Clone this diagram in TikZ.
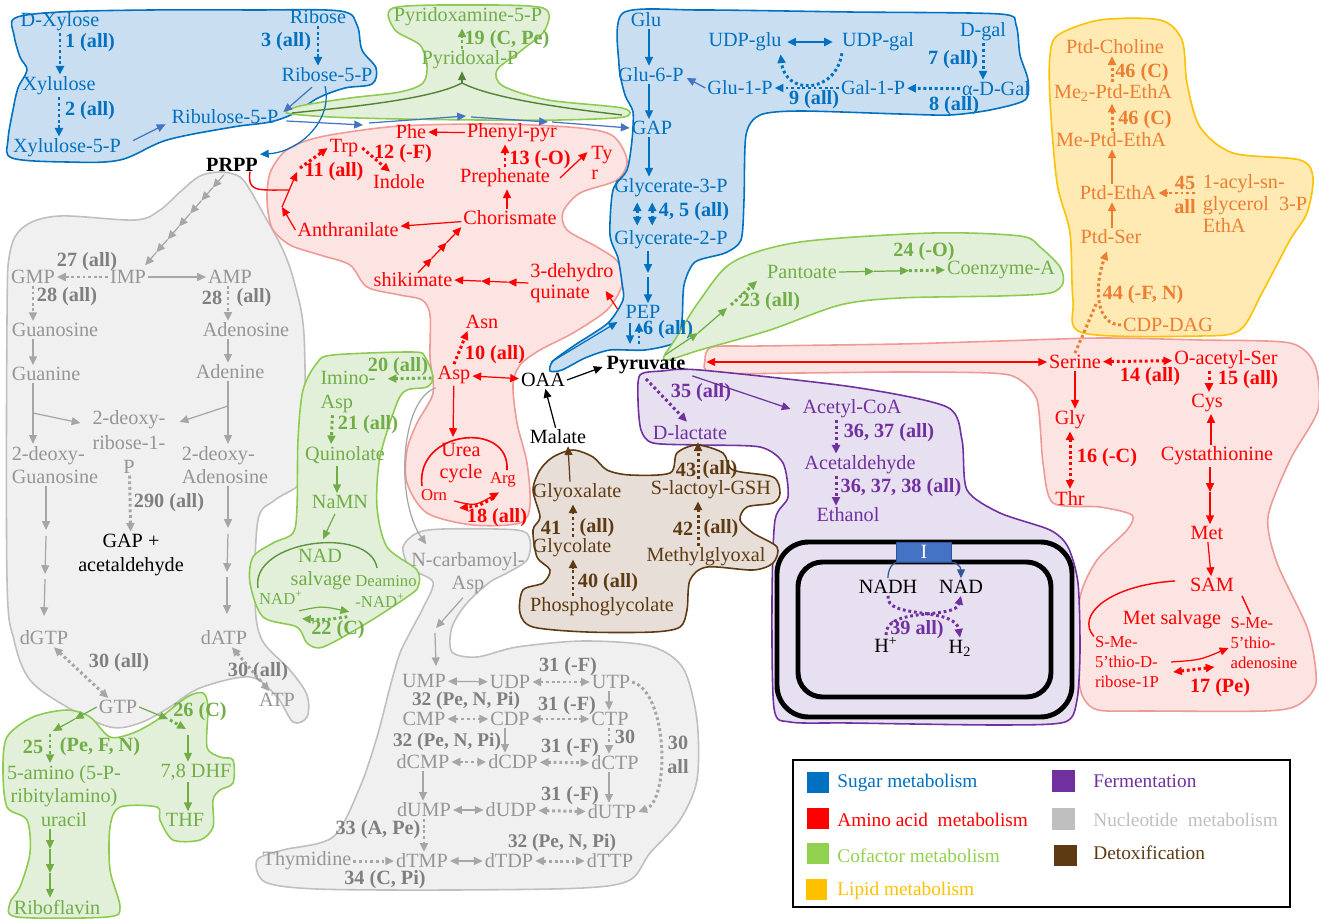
\documentclass[tikz,border=0pt]{standalone}
\usepackage{fontspec}
\setmainfont{Liberation Serif}
\usetikzlibrary{arrows.meta,calc}
\definecolor{sugblue}{HTML}{0070C0}
\definecolor{sugmid}{HTML}{4472C4}
\definecolor{sugfill}{HTML}{C9DFF1}
\definecolor{amired}{HTML}{FF0000}
\definecolor{amifill}{HTML}{FCE4E2}
\definecolor{amiedge}{HTML}{EE9A97}
\definecolor{cofgreen}{HTML}{70AD47}
\definecolor{cofdark}{HTML}{548235}
\definecolor{coffill}{HTML}{E2F0D9}
\definecolor{cofedge}{HTML}{8CCB50}
\definecolor{lipor}{HTML}{ED7D31}
\definecolor{lipfill}{HTML}{FFEAB4}
\definecolor{lipedge}{HTML}{FFC000}
\definecolor{ferpur}{HTML}{7030A0}
\definecolor{ferfill}{HTML}{E7E0F0}
\definecolor{nucgray}{HTML}{959595}
\definecolor{nucdark}{HTML}{7F7F7F}
\definecolor{nucarr}{HTML}{A6A6A6}
\definecolor{nucfill}{HTML}{F0F0F0}
\definecolor{nucedge}{HTML}{BFBFBF}
\definecolor{detbrown}{HTML}{5E3A12}
\definecolor{detfill}{HTML}{E8DED8}
\definecolor{legcof}{HTML}{92D050}
\definecolor{boxblue}{HTML}{4472C4}
\definecolor{boxedge}{HTML}{2F5597}
\newcommand{\mfs}{\fontsize{11.5}{13.5}\selectfont}
\newcommand{\sfs}{\fontsize{9.5}{11.3}\selectfont}
\newcommand{\lfs}{\fontsize{11}{13}\selectfont}

\begin{document}
\begin{tikzpicture}[x=0.02cm, y=-0.02cm,
  met/.style={font=\mfs, inner sep=1pt},
  rxn/.style={font=\mfs\bfseries, inner sep=1pt},
  smallmet/.style={font=\sfs, inner sep=1pt},
  arr/.style={-{Triangle[length=5pt,width=4.5pt]}, line width=0.7pt},
  dotarr/.style={arr, line width=1.7pt, dash pattern=on 1.6pt off 1.6pt},
  twoarr/.style={{Triangle[length=5pt,width=4.5pt]}-{Triangle[length=5pt,width=4.5pt]}, line width=0.7pt},
  twodot/.style={twoarr, line width=1.7pt, dash pattern=on 1.6pt off 1.6pt},
  blob/.style={line width=0.9pt}]

  \useasboundingbox (0,0) rectangle (1319,919);

  % ---- Regions ----
  % nucleotide (purines)
  \filldraw[nucfill, draw=nucedge, blob] plot[smooth cycle, tension=0.55] coordinates {
    (240,177) (222,172) (200,176) (180,192) (160,210) (135,220) (60,216) (25,226)
    (10,252) (7,320) (7,580) (14,640) (30,680) (67,707) (110,727) (140,723) (170,707)
    (200,688) (250,677) (277,697) (293,722) (307,717) (307,695) (290,670) (262,640)
    (255,600) (258,520) (275,500) (300,483) (305,450) (304,335) (295,285) (283,250)
    (263,213) (250,190)};
  % nucleotide (pyrimidines)
  \filldraw[nucfill, draw=nucedge, blob] plot[smooth cycle, tension=0.5] coordinates {
    (403,547) (417,533) (443,529) (517,530) (530,540) (527,560) (507,573) (490,582)
    (467,603) (452,627) (452,652) (477,657) (517,647) (583,641) (650,646) (683,668)
    (697,720) (697,780) (680,820) (650,853) (630,880) (583,888) (450,890) (317,889)
    (265,882) (257,860) (283,850) (333,837) (360,787) (377,737) (390,687) (400,653)
    (413,627) (423,608) (433,582) (410,568)};
  % sugar (pentoses)
  \filldraw[sugfill, draw=sugblue, blob] plot[smooth cycle, tension=0.55] coordinates {
    (15,18) (60,12) (150,10) (250,10) (340,11) (357,25) (362,50) (376,68) (372,84)
    (345,88) (318,98) (295,113) (270,122) (233,127) (167,140) (120,160) (67,162)
    (12,158) (8,140) (13,110) (18,88) (27,70) (20,57) (14,35)};
  % cofactor (pyridoxal)
  \filldraw[coffill, draw=cofedge, blob] plot[smooth cycle, tension=0.5] coordinates {
    (393,8) (468,5) (543,8) (545,30) (522,50) (497,70) (503,86) (548,100) (622,108)
    (624,117) (560,120) (480,120) (400,119) (330,117) (287,113) (300,106) (350,98)
    (400,92) (423,83) (427,65) (420,45) (395,30)};
  % amino acid (aromatic)
  \filldraw[amifill, draw=amiedge, blob] plot[smooth cycle, tension=0.5] coordinates {
    (267,200) (270,173) (283,153) (300,143) (330,135) (400,126) (500,124) (580,128)
    (613,136) (627,160) (617,180) (580,193) (563,212) (567,230) (597,247) (618,262)
    (622,285) (607,310) (573,333) (540,350) (520,365) (513,385) (517,423) (527,463)
    (530,505) (520,523) (473,525) (427,513) (407,483) (407,450) (417,423) (433,393)
    (430,357) (430,315) (422,300) (400,295) (367,287) (350,265) (320,255) (290,245)
    (272,228)};
  % sugar (glycolysis)
  \filldraw[sugfill, draw=sugblue, blob] plot[smooth cycle, tension=0.45] coordinates {
    (623,13) (700,10) (850,12) (1000,14) (1016,25) (1020,55) (1028,80) (1025,100)
    (990,110) (950,115) (900,114) (800,111) (760,115) (746,135) (744,200) (741,240)
    (725,253) (695,262) (684,285) (682,320) (676,342) (645,350) (610,350) (585,358)
    (562,370) (550,371) (553,361) (575,345) (608,323) (623,300) (622,283) (618,258)
    (610,235) (613,190) (627,170) (632,140) (633,112) (625,95) (619,65)};
  % amino acid (serine, methionine)
  \filldraw[amifill, draw=amiedge, blob] plot[smooth cycle, tension=0.45] coordinates {
    (705,360) (712,347) (760,346) (900,344) (1000,341) (1100,338) (1200,340)
    (1290,343) (1315,365) (1318,410) (1290,460) (1268,517) (1277,563) (1308,630)
    (1316,683) (1298,705) (1265,711) (1150,711) (1098,710) (1082,695) (1077,660)
    (1080,597) (1097,560) (1127,530) (1132,515) (1100,507) (1053,503) (1043,463)
    (1037,400) (1017,378) (990,373) (900,372) (800,373) (712,373)};
  % cofactor (pantothenate)
  \filldraw[coffill, draw=cofedge, blob] plot[smooth cycle, tension=0.5] coordinates {
    (664,360) (676,338) (700,300) (733,262) (800,242) (933,233) (1020,236)
    (1040,247) (1060,267) (1063,283) (1050,293) (1000,296) (900,298) (840,305)
    (770,330) (700,350)};
  % lipid
  \filldraw[lipfill, draw=lipedge, blob] plot[smooth cycle, tension=0.5] coordinates {
    (1058,35) (1100,20) (1160,20) (1182,40) (1187,83) (1200,127) (1233,153) (1300,160)
    (1313,178) (1307,213) (1290,240) (1262,293) (1240,330) (1200,336) (1083,333)
    (1073,300) (1070,233) (1057,183) (1050,100) (1050,55)};
  % fermentation
  \filldraw[ferfill, draw=ferpur, blob] plot[smooth cycle, tension=0.45] coordinates {
    (640,375) (662,371) (700,370) (853,387) (947,407) (962,440) (967,490) (1000,513)
    (1050,530) (1068,547) (1078,583) (1080,650) (1077,700) (1065,722) (1000,725)
    (850,723) (790,722) (774,708) (772,600) (775,520) (788,497) (783,463) (760,447)
    (700,445) (653,443) (641,430) (638,400)};
  % membrane
  \draw[line width=2.8pt, rounded corners=18pt] (777,542) rectangle (1072,717);
  \draw[line width=2.8pt, rounded corners=14pt] (798,562) rectangle (1051,697);
  % detoxification
  \filldraw[detfill, draw=detbrown, blob] plot[smooth cycle, tension=0.5] coordinates {
    (553,457) (573,450) (593,457) (607,470) (630,475) (670,473) (677,453) (697,445)
    (723,453) (733,470) (773,477) (780,493) (773,503) (747,507) (740,520) (753,533)
    (777,547) (773,563) (753,570) (707,567) (690,580) (687,610) (680,627) (653,632)
    (587,632) (533,627) (520,613) (523,590) (543,583) (550,570) (537,557) (533,530)
    (540,517) (533,490) (540,470)};
  % cofactor (NAD)
  \filldraw[coffill, draw=cofedge, blob] plot[smooth cycle, tension=0.5] coordinates {
    (317,363) (333,355) (413,352) (425,357) (433,377) (427,387) (407,390) (397,403)
    (380,457) (377,507) (387,547) (417,570) (418,587) (407,597) (367,623) (323,647)
    (307,643) (297,627) (263,617) (250,583) (253,557) (273,543) (293,533) (297,507)
    (298,440) (303,390)};
  % cofactor (riboflavin, folate)
  \filldraw[coffill, draw=cofedge, blob] plot[smooth cycle, tension=0.5] coordinates {
    (7,737) (33,717) (67,710) (90,717) (110,737) (133,733) (157,720) (187,697)
    (203,693) (208,707) (207,747) (220,757) (233,760) (233,783) (220,790) (213,800)
    (213,827) (200,840) (173,840) (160,820) (157,807) (120,807) (110,827) (110,870)
    (120,907) (107,917) (17,917) (10,903) (20,887) (30,853) (27,820) (7,807) (3,770)};

  % ---- Sugar metabolism ----
  \node[met, sugblue] (dxyl) at (60,22) {D-Xylose};
  \node[met, sugblue] (xylu) at (59,86) {Xylulose};
  \node[met, sugblue] (xyl5p) at (67,148) {Xylulose-5-P};
  \node[met, sugblue] (rib) at (318,17) {Ribose};
  \node[met, sugblue] (rib5p) at (327,75) {Ribose-5-P};
  \node[met, sugblue] (ribu5p) at (225,117) {Ribulose-5-P};
  \node[rxn, sugblue] (r1) at (90,43) {1 (all)};
  \node[rxn, sugblue] (r2) at (90,111) {2 (all)};
  \node[rxn, sugblue] (r3) at (286,42) {3 (all)};
  \node[rxn, black] (prpp) at (232,165) {PRPP};
  \draw[dotarr, sugblue] (dxyl) -- (dxyl |- xylu.north);
  \draw[dotarr, sugblue] (xylu) -- (xylu |- xyl5p.north);
  \draw[dotarr, sugblue] (rib) -- (rib |- rib5p.north);
  \draw[arr, sugmid] ($(xyl5p.north east)+(10,4)$) -- ($(ribu5p.south west)+(-4,-2)$);
  \draw[arr, sugmid] ($(rib5p.south)+(-15,3)$) -- ($(ribu5p.east)+(3,-5)$);
  \draw[arr, sugblue] ($(rib5p.south)+(-2,2)$) .. controls (333,120) and (300,152) .. ($(prpp.north east)+(0,-2)$);

  \coordinate (ch1) at (363,125);
  \coordinate (ch2) at (466,116);
  \coordinate (ch3) at (548,122);
  \node[met, sugblue] (glu) at (646,20) {Glu};
  \node[met, sugblue] (g6p) at (651,75) {Glu-6-P};
  \node[met, sugblue] (gap) at (652,128) {GAP};
  \node[met, sugblue] (g3p) at (671,188) {Glycerate-3-P};
  \node[met, sugblue] (g2p) at (671,240) {Glycerate-2-P};
  \node[met, sugblue] (pep) at (643,312) {PEP};
  \node[rxn, sugblue] (r45) at (694,212) {4, 5 (all)};
  \node[rxn, sugblue] (r6) at (668,330) {6 (all)};
  \draw[arr, sugmid] ($(ribu5p.east)+(6,4)$) -- (ch1);
  \draw[arr, sugmid] ($(ch1)+(6,-2)$) -- (ch2);
  \draw[arr, sugmid] ($(ch2)+(5,1)$) -- (ch3);
  \draw[arr, sugmid] ($(ch3)+(4,0)$) -- (gap.west);

  \coordinate (gcol) at (649,0);
  \coordinate (pmid) at (648,273);
  \draw[arr, sugblue] (glu.south -| gcol) -- (g6p.north -| gcol);
  \draw[arr, sugblue] (g6p.south -| gcol) -- (gap.north -| gcol);
  \draw[arr, sugblue] (gap.south -| gcol) -- (g3p.north -| gcol);
  \draw[twodot, sugblue] ($(g3p.south west)+(25,3)$) -- ($(g2p.north west)+(25,-3)$);
  \draw[twodot, sugblue] ($(g3p.south west)+(40,3)$) -- ($(g2p.north west)+(40,-3)$);
  \draw[arr, sugblue] (g2p.south -| pmid) -- (pmid);
  \draw[arr, sugblue] ($(pmid)+(0,4)$) -- (pep.north -| pmid);

  \node[met, sugblue] (udpglu) at (745,42) {UDP-glu};
  \node[met, sugblue] (udpgal) at (878,42) {UDP-gal};
  \node[met, sugblue] (glu1p) at (740,88) {Glu-1-P};
  \node[met, sugblue] (gal1p) at (873,88) {Gal-1-P};
  \node[met, sugblue] (adgal) at (996,89) {α-D-Gal};
  \node[met, sugblue] (dgal) at (983,32) {D-gal};
  \node[rxn, sugblue] (r7) at (953,60) {7 (all)};
  \node[rxn, sugblue] (r8) at (954,106) {8 (all)};
  \node[rxn, sugblue] (r9) at (814,100) {9 (all)};
  \draw[twoarr, sugblue, line width=1.4pt, shorten <=2pt, shorten >=4pt] (udpglu) -- (udpgal);
  \draw[dotarr, sugblue] ($(udpgal.south west)+(2,0)$) .. controls (835,95) and (785,95) .. ($(udpglu.south east)+(-3,1)$);
  \draw[dotarr, sugblue] (gal1p) -- (glu1p);
  \draw[arr, sugmid] (glu1p.west) -- ($(g6p.east)+(1,3)$);
  \draw[dotarr, sugblue] (adgal) -- (gal1p);
  \draw[dotarr, sugblue] (dgal) -- (dgal |- adgal.north);

  % ---- Cofactor: pyridoxal ----
  \node[met, cofgreen] (pyxam) at (468,17) {Pyridoxamine-5-P};
  \node[met, cofgreen] (pyxal) at (470,60) {Pyridoxal-P};
  \node[rxn, cofgreen] (r19) at (507,40) {19 (C, Pe)};
  \coordinate (yjoin) at (462,83);
  \coordinate (ylft) at (292,113);
  \coordinate (yrgt) at (622,115);
  \draw[dotarr, cofgreen] (pyxal.north -| yjoin) -- (pyxam.south -| yjoin);
  \draw[arr, cofdark] (yjoin) -- (pyxal.south -| yjoin);
  \draw[cofdark, line width=0.8pt] (yjoin) .. controls (430,100) and (340,108) .. (ylft);
  \draw[cofdark, line width=0.8pt] (yjoin) .. controls (495,100) and (580,110) .. (yrgt);

  % ---- Amino acid: aromatic ----
  \node[met, amired] (phe) at (411,132) {Phe};
  \node[met, amired] (phpyr) at (512,133) {Phenyl-pyr};
  \node[met, amired] (trp) at (344,148) {Trp};
  \node[rxn, amired] (r12) at (403,154) {12 (-F)};
  \node[met, amired] (indole) at (399,182) {Indole};
  \node[rxn, amired] (r11) at (334,172) {11 (all)};
  \node[met, amired] (anth) at (348,230) {Anthranilate};
  \node[met, amired] (chor) at (510,218) {Chorismate};
  \node[met, amired] (preph) at (505,178) {Prephenate};
  \node[rxn, amired] (r13) at (540,160) {13 (-O)};
  \node[met, amired, align=left, font=\fontsize{11.5}{11.5}\selectfont] (tyr) at (602,163) {Ty\\r};
  \node[met, amired] (shik) at (413,280) {shikimate};
  \node[met, amired, align=left, font=\fontsize{11.5}{12}\selectfont] (dhq) at (572,283) {3-dehydro\\quinate};
  \coordinate (tjn) at (282,207);
  \coordinate (tmid) at (297,172);
  \coordinate (tprpp) at (289,190);
  \draw[arr, amired] (phpyr) -- (phe);
  \draw[dotarr, amired] ($(trp.east)+(2,0)$) -- ($(indole.north)+(-9,-1)$);
  \draw[arr, amired] (anth.west) -- (tjn);
  \draw[arr, amired] (tjn) -- (tmid);
  \draw[dotarr, amired] ($(tmid)+(3,-4)$) -- (trp.west);
  \draw[amired, line width=0.8pt] ($(prpp.south east)+(-10,-2)$) .. controls (248,192) and (255,190) .. (tprpp);
  \draw[arr, amired] (chor) -- (anth);
  \draw[arr, amired] ($(chor.north)+(-3,0)$) -- ($(chor.north |- preph.south)+(-3,0)$);
  \draw[dotarr, amired] (preph) -- (preph |- phpyr.south);
  \draw[arr, amired] ($(preph.east)+(8,0)$) -- ($(tyr.north west)+(-2,8)$);
  \foreach \a/\b in {0/0.28, 0.28/0.64, 0.64/1}
    \draw[arr, amired] ($(dhq.west)!\a!(shik.east)$) -- ($(dhq.west)!\b!(shik.east)$);
  \foreach \a/\b in {0/0.32, 0.32/0.66, 0.66/1}
    \draw[arr, amired] ($($(shik.north)+(5,2)$)!\a!(chor.south west)$) -- ($($(shik.north)+(5,2)$)!\b!(chor.south west)$);
  \draw[arr, amired] ($(pep.west)+(-6,-3)$) -- ($(dhq.east)+(-10,8)$);

  % ---- Amino acid: aspartate ----
  \node[met, amired] (asn) at (482,322) {Asn};
  \node[rxn, amired] (r10) at (495,355) {10 (all)};
  \node[met, amired] (asp) at (454,375) {Asp};
  \node[met, black] (oaa) at (543,380) {OAA};
  \node[rxn, black] (pyr) at (646,365) {Pyruvate};
  \node[met, black] (malate) at (558,437) {Malate};
  \node[met, amired, align=center, font=\fontsize{11.5}{12.5}\selectfont] (urea) at (461,463) {Urea\\cycle};
  \node[smallmet, amired] (orn) at (434,495) {Orn};
  \node[smallmet, amired] (arg) at (503,480) {Arg};
  \node[rxn, amired] (r18) at (497,518) {18 (all)};
  \coordinate (utop) at (453,437);
  \coordinate (uarcl) at (422,486);
  \coordinate (uarcr) at (507,470);
  \draw[dotarr, amired] (asp.north) -- ($(asn.south west)+(4,0)$);
  \draw[twoarr, amired] (asp) -- (oaa);
  \draw[arr, black] (oaa.east) -- ($(pyr.west)+(-2,2)$);
  \draw[arr, black] (malate) -- (oaa);
  \draw[arr, amired] (asp) -- (utop);
  \draw[amired, line width=0.9pt] (uarcl) .. controls (415,430) and (510,420) .. (uarcr);
  \draw[arr, amired] ($(orn.east)+(5,6)$) .. controls (475,506) .. ($(arg.south)+(-4,3)$);
  \draw[dotarr, amired] ($(arg.south)+(-10,9)$) .. controls (478,506) .. ($(orn.east)+(10,13)$);
  \draw[arr, sugblue] ($(oaa.north)+(8,-9)$) -- ($(pep.west)+(-6,10)$);
  \draw[arr, sugblue] ($(pep.south)+(-13,2)$) -- ($(pyr.north)+(-16,-10)$);
  \draw[dotarr, sugblue] ($(pyr.north)+(-7,-10)$) -- ($(pep.south)+(-4,2)$);

  % ---- Cofactor: NAD ----
  \node[rxn, cofgreen] (r20) at (398,367) {20 (all)};
  \node[met, cofgreen, align=left, font=\fontsize{11.5}{14}\selectfont] (imasp) at (348,392) {Imino-\\Asp};
  \node[rxn, cofgreen] (r21) at (368,425) {21 (all)};
  \node[met, cofgreen] (quin) at (345,455) {Quinolate};
  \node[met, cofgreen] (namn) at (340,502) {NaMN};
  \node[met, cofgreen] (nad) at (320,556) {NAD};
  \node[met, cofgreen] (salv) at (321,581) {salvage};
  \node[smallmet, cofgreen] (deam) at (386,581) {Deamino};
  \node[smallmet, cofgreen] (nadp) at (281,598) {NAD\textsuperscript{+}};
  \node[smallmet, cofgreen] (dnadp) at (380,601) {-NAD\textsuperscript{+}};
  \node[rxn, cofgreen] (r22) at (338,630) {22 (C)};
  \coordinate (nadl) at (258,588);
  \coordinate (nadr) at (377,568);
  \draw[dotarr, cofgreen] ($(asp.west)+(-4,3)$) -- ($(imasp.north east)+(10,10)$);
  \draw[dotarr, cofgreen] ($(imasp.south west)+(14,0)$) -- ($(quin.north west)+(28,0)$);
  \draw[arr, cofgreen] ($(quin.south)+(-8,0)$) -- ($(namn.north)+(-3,0)$);
  \draw[arr, cofgreen] ($(namn.south)+(-5,3)$) -- ($(nad.north)+(3,-8)$);
  \draw[cofgreen!85!black, line width=0.8pt] (nadl) .. controls (250,540) and (370,525) .. (nadr);
  \draw[arr, cofgreen] ($(nadp.south east)+(-6,4)$) .. controls (322,606) .. ($(dnadp.south west)+(-4,2)$);
  \draw[dotarr, cofgreen] ($(dnadp.south west)+(-6,7)$) .. controls (325,620) .. ($(nadp.south east)+(-3,12)$);

  % ---- Cofactor: pantothenate ----
  \node[met, cofgreen] (pant) at (802,272) {Pantoate};
  \node[met, cofgreen] (coa) at (1001,270) {Coenzyme-A};
  \node[rxn, cofgreen] (r24) at (924,252) {24 (-O)};
  \node[rxn, cofgreen] (r23) at (770,302) {23 (all)};
  \coordinate (pc1) at ($(pant.east)!0.33!(coa.west)$);
  \coordinate (pc2) at ($(pant.east)!0.66!(coa.west)$);
  \coordinate (pa1) at (698,333);
  \coordinate (pa2) at (727,308);
  \draw[arr, cofgreen] (pant.east) -- (pc1);
  \draw[arr, cofgreen] (pc1) -- (pc2);
  \draw[dotarr, cofgreen] (pc2) -- (coa.west);
  \draw[arr, cofgreen] ($(pyr.north)+(19,1)$) -- (pa1);
  \draw[arr, cofgreen] (pa1) -- (pa2);
  \draw[dotarr, cofgreen] ($(pa2)+(4,-3)$) -- ($(pant.south west)+(-8,0)$);

  % ---- Lipid metabolism ----
  \node[met, lipor] (ptdcho) at (1115,47) {Ptd-Choline};
  \node[rxn, lipor] (r46a) at (1142,73) {46 (C)};
  \node[met, lipor] (me2) at (1113,93) {Me\textsubscript{2}-Ptd-EthA};
  \node[rxn, lipor] (r46b) at (1145,120) {46 (C)};
  \node[met, lipor] (me1) at (1111,140) {Me-Ptd-EthA};
  \node[met, lipor] (ptde) at (1118,193) {Ptd-EthA};
  \node[rxn, lipor, align=center, font=\fontsize{11.5}{14}\selectfont\bfseries] (r45b) at (1185,195) {45\\all};
  \node[met, lipor, align=left, font=\fontsize{11.5}{12.5}\selectfont] (acyl) at (1255,204) {1-acyl-sn-\\glycerol~~3-P\\EthA};
  \node[met, lipor] (ptds) at (1111,237) {Ptd-Ser};
  \node[rxn, lipor] (r44) at (1143,295) {44 (-F, N)};
  \node[met, lipor] (cdp) at (1168,325) {CDP-DAG};
  \coordinate (lcol) at (1112,0);
  \coordinate (lipjn) at (1097,302);
  \draw[dotarr, lipor] (me2.north -| lcol) -- (ptdcho.south -| lcol);
  \draw[dotarr, lipor] (me1.north -| lcol) -- (me2.south -| lcol);
  \draw[arr, lipor] (ptde.north -| lcol) -- (me1.south -| lcol);
  \draw[arr, lipor] (ptds.north -| lcol) -- (ptde.south -| lcol);
  \draw[dotarr, lipor] ($(acyl.west)+(-6,-11)$) -- (ptde.east);
  \draw[dotarr, lipor] (cdp.west) .. controls (1097,325) and (1093,290) .. ($(ptds.south)+(-4,5)$);

  % ---- Amino acid: serine, methionine ----
  \node[met, amired] (ser) at (1075,362) {Serine};
  \node[met, amired] (oas) at (1226,360) {O-acetyl-Ser};
  \node[rxn, amired] (r14) at (1150,377) {14 (all)};
  \node[rxn, amired] (r15) at (1248,380) {15 (all)};
  \node[met, amired] (cys) at (1207,403) {Cys};
  \node[met, amired] (gly) at (1070,420) {Gly};
  \node[rxn, amired] (r16) at (1107,458) {16 (-C)};
  \node[met, amired] (thr) at (1070,498) {Thr};
  \node[met, amired] (cysta) at (1217,456) {Cystathionine};
  \node[met, amired] (met) at (1207,533) {Met};
  \node[met, amired] (sam) at (1212,585) {SAM};
  \node[met, amired] (msalv) at (1172,620) {Met salvage};
  \node[smallmet, amired, align=left] (mtr) at (1127,662) {S-Me-\\5’thio-D-\\ribose-1P};
  \node[smallmet, amired, align=left] (mta) at (1264,643) {S-Me-\\5’thio-\\adenosine};
  \node[rxn, amired] (r17) at (1220,688) {17 (Pe)};
  \coordinate (mcol) at (1210,0);
  \coordinate (cmid) at (1210,492);
  \draw[dotarr, lipor, -] (ser.north) -- (lipjn);
  \draw[twoarr, amired] ($(pyr.east)+(19,-3)$) -- (ser.west);
  \draw[twodot, amired] (ser) -- (oas);
  \draw[dotarr, amired] ($(oas.south)+(-17,0)$) -- ($(cys.north)+(2,0)$);
  \draw[arr, amired] (ser) -- (ser |- gly.north);
  \draw[twodot, amired] (gly) -- (thr);
  \draw[arr, amired] ($(cysta.north)+(-6,0)$) -- ($(cys.south)+(4,0)$);
  \draw[arr, amired] (cysta.south -| mcol) -- (cmid);
  \draw[arr, amired] (cmid) -- (met.north -| mcol);
  \draw[arr, amired] (met) -- (sam);
  \draw[amired, line width=0.8pt] ($(sam.west)+(-13,-4)$) .. controls (1110,585) and (1075,615) .. ($(mtr.north west)+(1,2)$);
  \draw[amired, line width=0.8pt] ($(sam.south east)+(6,2)$) -- ($(mta.north west)+(22,-1)$);
  \draw[arr, amired] ($(mtr.east)+(10,0)$) .. controls (1200,660) .. ($(mta.west)+(0,5)$);
  \draw[twodot, amired] ($(mtr.east)+(12,10)$) -- ($(mta.west)+(-14,24)$);

  % ---- Fermentation ----
  \node[rxn, ferpur] (r35) at (701,393) {35 (all)};
  \node[met, ferpur] (dlac) at (690,433) {D-lactate};
  \node[met, ferpur] (acoa) at (852,409) {Acetyl-CoA};
  \node[rxn, ferpur] (r3637) at (889,433) {36, 37 (all)};
  \node[met, ferpur] (acald) at (860,465) {Acetaldehyde};
  \node[rxn, ferpur] (r363738) at (901,488) {36, 37, 38 (all)};
  \node[met, ferpur] (etoh) at (848,515) {Ethanol};
  \coordinate (fcol) at (836,0);
  \draw[dotarr, ferpur] ($(pyr.south)+(0,3)$) -- ($(dlac.north)+(-3,-2)$);
  \draw[arr, ferpur] ($(pyr.south east)+(5,0)$) -- ($(acoa.west)+(-10,0)$);
  \draw[dotarr, ferpur] (acoa.south -| fcol) -- (acald.north -| fcol);
  \draw[dotarr, ferpur] (acald.south -| fcol) -- (etoh.north -| fcol);

  % membrane reactions
  \node[fill=boxblue, draw=boxedge, text=white, font=\mfs, minimum width=1.1cm,
        minimum height=0.4cm, inner sep=0pt] (cmplx) at (924,552) {I};
  \node[met, black] (nadh) at (888,587) {NADH};
  \node[met, black] (nadm) at (961,587) {NAD};
  \node[met, black] (hplus) at (886,645) {H\textsuperscript{+}};
  \node[met, black] (htwo) at (960,648) {H\textsubscript{2}};
  \node[rxn, ferpur] (r39) at (917,630) {39 all)};
  \draw[arr, boxedge] (nadh.north) .. controls (888,563) and (898,562) .. (cmplx.south west)
    -- (cmplx.south east) .. controls (955,562) and (961,566) .. (nadm.north);
  \draw[dotarr, ferpur] (nadh.south) .. controls (885,620) and (955,606) .. (htwo.north);
  \draw[dotarr, ferpur] (hplus.north) .. controls (885,606) and (955,620) .. (nadm.south);

  % ---- Detoxification ----
  \node[met, detbrown] (glyox) at (577,493) {Glyoxalate};
  \node[met, detbrown] (glyc) at (572,548) {Glycolate};
  \node[met, detbrown] (pglyc) at (602,607) {Phosphoglycolate};
  \node[met, detbrown] (slac) at (711,490) {S-lactoyl-GSH};
  \node[met, detbrown] (mgly) at (706,557) {Methylglyoxal};
  \node[rxn, detbrown] (r41a) at (551,528) {41};
  \node[rxn, detbrown] (r41b) at (597,528) {(all)};
  \node[rxn, detbrown] (r40) at (608,583) {40 (all)};
  \node[rxn, detbrown] (r43a) at (686,470) {43};
  \node[rxn, detbrown] (r43b) at (720,470) {(all)};
  \node[rxn, detbrown] (r42a) at (683,529) {42};
  \node[rxn, detbrown] (r42b) at (721,529) {(all)};
  \coordinate (dcol) at (573,0);
  \coordinate (ecol) at (698,0);
  \draw[arr, detbrown] ($(glyox.north)+(-7,0)$) -- ($(malate.south)+(10,0)$);
  \draw[dotarr, detbrown] (glyc.north -| dcol) -- (glyox.south -| dcol);
  \draw[dotarr, detbrown] (pglyc.north -| dcol) -- (glyc.south -| dcol);
  \draw[dotarr, detbrown] (slac.north -| ecol) -- (dlac.south -| ecol);
  \draw[dotarr, detbrown] (mgly.north -| ecol) -- (slac.south -| ecol);

  % ---- Nucleotide metabolism (purines) ----
  \node[met, nucgray] (gmp) at (33,277) {GMP};
  \node[met, nucgray] (imp) at (128,277) {IMP};
  \node[met, nucgray] (amp) at (230,277) {AMP};
  \node[rxn, nucdark] (r27) at (87,262) {27 (all)};
  \node[rxn, nucdark] (r28a) at (67,297) {28 (all)};
  \node[rxn, nucdark] (r28b) at (212,298) {28};
  \node[rxn, nucdark] (r28c) at (254,298) {(all)};
  \node[met, nucgray] (guo) at (55,330) {Guanosine};
  \node[met, nucgray] (ado) at (246,330) {Adenosine};
  \node[met, nucgray] (gua) at (46,374) {Guanine};
  \node[met, nucgray] (ade) at (230,372) {Adenine};
  \node[met, nucgray, align=left] (dguo) at (55,465) {2-deoxy-\\Guanosine};
  \node[met, nucgray, align=left] (dado) at (225,465) {2-deoxy-\\Adenosine};
  \node[met, nucgray, align=center, font=\fontsize{11.5}{14}\selectfont] (dr1p) at (129,442) {2-deoxy-\\ribose-1-\\P};
  \node[rxn, nucdark] (r290) at (169,503) {290 (all)};
  \node[met, black, align=center, font=\fontsize{11.5}{14}\selectfont] (gapac) at (131,555) {GAP +\\acetaldehyde};
  \node[met, nucgray] (dgtp) at (44,638) {dGTP};
  \node[met, nucgray] (datp) at (224,638) {dATP};
  \node[rxn, nucdark] (r30a) at (119,663) {30 (all)};
  \node[met, nucgray] (gtp) at (118,707) {GTP};
  \node[rxn, nucdark] (r30b) at (258,672) {30 (all)};
  \node[met, nucgray] (atp) at (277,700) {ATP};
  \coordinate (pstart) at ($(prpp.south)+(-8,1)$);
  \coordinate (pend) at ($(imp.north east)+(-3,-3)$);
  \foreach \k [evaluate=\k as \fa using \k/7, evaluate=\k as \fb using (\k+1)/7] in {0,...,6}
    \draw[arr, nucarr] ($(pstart)!\fa!(pend)$) -- ($(pstart)!\fb!(pend)$);
  \coordinate (gbr) at (33,413);
  \coordinate (abr) at (228,406);
  \coordinate (dg1) at (46,530);
  \coordinate (dg2) at (45,574);
  \coordinate (dg3) at (44,616);
  \coordinate (da1) at (228,528);
  \coordinate (da2) at (227,572);
  \coordinate (da3) at (227,614);
  \draw[dotarr, nucarr] (imp) -- (gmp);
  \draw[arr, nucarr] (imp) -- (amp);
  \draw[dotarr, nucarr] (gmp) -- (gmp |- guo.north);
  \draw[dotarr, nucarr] ($(amp.south)+(-2,0)$) -- ($(amp |- ado.north)+(-2,0)$);
  \draw[arr, nucarr] (guo.south -| gmp) -- (gua.north -| gmp);
  \draw[arr, nucarr] ($(ado.south -| amp)+(-2,0)$) -- ($(ade.north -| amp)+(-2,0)$);
  \draw[arr, nucarr] (gua.south -| gmp) -- (dguo.north -| gmp);
  \draw[arr, nucarr] (gbr) -- ($(dr1p.west)+(-10,-19)$);
  \draw[arr, nucarr] ($(ade.south -| amp)+(-2,0)$) -- ($(dado.north -| amp)+(-2,0)$);
  \draw[arr, nucarr] (abr) -- ($(dr1p.east)+(12,-20)$);
  \draw[dotarr, nucarr] (dr1p) -- (gapac);
  \draw[arr, nucarr] (dguo.south -| dg1) -- (dg1);
  \draw[arr, nucarr] ($(dg1)+(0,6)$) -- (dg2);
  \draw[arr, nucarr] ($(dg2)+(0,5)$) -- (dg3);
  \draw[arr, nucarr] (dado.south -| da1) -- (da1);
  \draw[arr, nucarr] ($(da1)+(0,6)$) -- (da2);
  \draw[arr, nucarr] ($(da2)+(0,5)$) -- (da3);
  \draw[twodot, nucarr] (dgtp) -- (gtp);
  \draw[twodot, nucarr] (datp) -- (atp);

  % ---- Cofactor: riboflavin, folate ----
  \node[rxn, cofgreen] (r25a) at (33,747) {25};
  \node[rxn, cofgreen] (r25b) at (100,747) {(Pe, F, N)};
  \node[met, cofgreen, align=center, font=\fontsize{11.5}{13.5}\selectfont] (arib) at (64,796) {5-amino (5-P-\\ribitylamino)\\uracil};
  \node[met, cofgreen] (ribf) at (57,907) {Riboflavin};
  \node[rxn, cofgreen] (r26) at (200,712) {26 (C)};
  \node[met, cofgreen] (dhf) at (196,772) {7,8 DHF};
  \node[met, cofgreen] (thf) at (185,820) {THF};
  \coordinate (g25) at (53,731);
  \coordinate (acol) at (50,0);
  \coordinate (u1) at (50,849);
  \coordinate (u2) at (50,873);
  \coordinate (g26) at (168,719);
  \coordinate (g26b) at (186,729);
  \coordinate (tcol) at (188,0);
  \draw[arr, cofgreen] (gtp.west) -- ($(gtp.west)!0.5!(g25)$);
  \draw[arr, cofgreen] ($(gtp.west)!0.5!(g25)$) -- (g25);
  \draw[dotarr, cofgreen] ($(g25)+(-3,3)$) -- (arib.north -| acol);
  \draw[arr, cofgreen] (arib.south -| acol) -- (u1);
  \draw[arr, cofgreen] (u1) -- (u2);
  \draw[arr, cofgreen] (u2) -- (ribf.north -| acol);
  \draw[arr, cofgreen] (gtp.east) -- (g26);
  \draw[dotarr, cofgreen] ($(g26)+(2,1)$) -- (g26b);
  \draw[arr, cofgreen] ($(g26b)+(2,6)$) -- (dhf.north -| tcol);
  \draw[arr, cofgreen] (dhf.south -| tcol) -- (thf.north -| tcol);

  % ---- Nucleotide metabolism (pyrimidines) ----
  \node[met, nucgray, align=center, font=\fontsize{11.5}{13}\selectfont] (ncarb) at (468,573) {N-carbamoyl-\\Asp};
  \node[met, nucgray] (ump) at (424,681) {UMP};
  \node[met, nucgray] (udp) at (510,682) {UDP};
  \node[met, nucgray] (utp) at (611,682) {UTP};
  \node[met, nucgray] (cmp) at (424,719) {CMP};
  \node[met, nucgray] (cdp) at (510,719) {CDP};
  \node[met, nucgray] (ctp) at (610,719) {CTP};
  \node[met, nucgray] (dcmp) at (423,762) {dCMP};
  \node[met, nucgray] (dcdp) at (513,762) {dCDP};
  \node[met, nucgray] (dctp) at (615,763) {dCTP};
  \node[met, nucgray] (dump) at (424,810) {dUMP};
  \node[met, nucgray] (dudp) at (511,810) {dUDP};
  \node[met, nucgray] (dutp) at (612,812) {dUTP};
  \node[met, nucgray] (thym) at (307,861) {Thymidine};
  \node[met, nucgray] (dtmp) at (422,861) {dTMP};
  \node[met, nucgray] (dtdp) at (509,861) {dTDP};
  \node[met, nucgray] (dttp) at (610,861) {dTTP};
  \node[rxn, nucdark] (r31a) at (568,667) {31 (-F)};
  \node[rxn, nucdark, font=\fontsize{11}{12}\selectfont\bfseries] (r32a) at (466,701) {32 (Pe, N, Pi)};
  \node[rxn, nucdark] (r31b) at (567,706) {31 (-F)};
  \node[rxn, nucdark] (r30c) at (625,737) {30};
  \node[rxn, nucdark, font=\fontsize{11}{12}\selectfont\bfseries] (r32b) at (447,742) {32 (Pe, N, Pi)};
  \node[rxn, nucdark] (r31c) at (570,748) {31 (-F)};
  \node[rxn, nucdark] (r31d) at (570,796) {31 (-F)};
  \node[rxn, nucdark, align=center, font=\fontsize{11.5}{14}\selectfont\bfseries] (r30d) at (678,755) {30\\all};
  \node[rxn, nucdark] (r33) at (378,830) {33 (A, Pe)};
  \node[rxn, nucdark] (r34) at (385,880) {34 (C, Pi)};
  \node[rxn, nucdark, font=\fontsize{11}{12}\selectfont\bfseries] (r32c) at (562,843) {32 (Pe, N, Pi)};
  \coordinate (ucb) at (436,628);
  \draw[arr, nucarr] ($(asp.south west)+(0,2)$) .. controls (400,400) and (395,500) .. ($(ncarb.north west)+(17,-6)$);
  \draw[arr, nucarr] ($(ncarb.south)+(-5,2)$) -- (ucb);
  \draw[arr, nucarr] ($(ucb)+(-1,5)$) -- ($(ump.north -| ucb)+(0,-6)$);
  \draw[twoarr, nucarr] (ump) -- (udp);
  \draw[twodot, nucarr] (udp) -- (utp);
  \draw[twodot, nucarr] (cmp) -- (cdp);
  \draw[twodot, nucarr] (cdp) -- (ctp);
  \draw[twodot, nucarr] (dcmp) -- (dcdp);
  \draw[twodot, nucarr] (dcdp) -- (dctp);
  \draw[twoarr, nucarr] (dump) -- (dudp);
  \draw[twodot, nucarr] (dudp) -- (dutp);
  \draw[twoarr, nucarr] (dtmp) -- (dtdp);
  \draw[twodot, nucarr] (dtdp) -- (dttp);
  \draw[arr, nucarr] ($(utp.south)+(-2,0)$) -- ($(ctp.north)+(-1,0)$);
  \draw[dotarr, nucarr] ($(ctp.south)+(-1,0)$) -- ($(ctp.south |- dctp.north)+(-1,0)$);
  \draw[arr, nucarr] ($(cdp.south)+(-5,0)$) -- ($(dcdp.north)+(-8,0)$);
  \draw[arr, nucarr] ($(dctp.south)+(-6,0)$) -- ($(dutp.north)+(-3,0)$);
  \draw[arr, nucarr] (dcmp) -- (dcmp |- dump.north);
  \draw[dotarr, nucarr] (dump) -- (dump |- dtmp.north);
  \draw[dotarr, nucarr] (thym) -- (dtmp);
  \draw[dotarr, nucarr] (utp.east) .. controls (668,692) and (670,800) .. (dutp.east);

  % ---- Legend ----
  \draw[line width=1.1pt] (793,760) rectangle (1290,907);
  \fill[sugblue] (807,772) rectangle (829,793);
  \fill[amired] (807,808) rectangle (829,829);
  \fill[legcof] (807,843) rectangle (829,864);
  \fill[lipedge] (806,879) rectangle (827,900);
  \fill[ferpur] (1052,770) rectangle (1075,792);
  \fill[nucedge] (1052,808) rectangle (1075,830);
  \fill[detbrown] (1054,845) rectangle (1077,866);
  \node[font=\lfs, sugblue, anchor=west, inner sep=0pt] (lsug) at (837,783) {Sugar metabolism};
  \node[font=\lfs, amired, anchor=west, inner sep=0pt] (lami) at (837,820) {Amino acid~ metabolism};
  \node[font=\lfs, legcof, anchor=west, inner sep=0pt] (lcof) at (837,856) {Cofactor metabolism};
  \node[font=\lfs, lipedge, anchor=west, inner sep=0pt] (llip) at (837,891) {Lipid metabolism};
  \node[font=\lfs, ferpur, anchor=west, inner sep=0pt] (lfer) at (1093,781) {Fermentation};
  \node[font=\lfs, nucedge, anchor=west, inner sep=0pt] (lnuc) at (1093,820) {Nucleotide~ metabolism};
  \node[font=\lfs, detbrown, anchor=west, inner sep=0pt] (ldet) at (1093,853) {Detoxification};

\end{tikzpicture}
\end{document}
